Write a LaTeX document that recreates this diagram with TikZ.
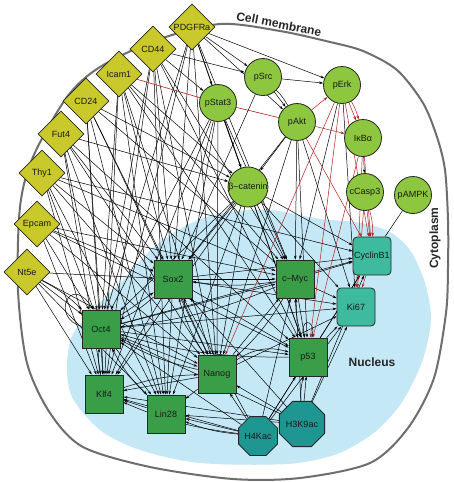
\documentclass[tikz,border=0pt]{standalone}
\usepackage{fontspec}
\setmainfont{Liberation Sans}
\usetikzlibrary{shapes.geometric,arrows.meta}
\definecolor{dia}{RGB}{201,201,44}
\definecolor{cgreen}{RGB}{141,198,63}
\definecolor{sgreen}{RGB}{58,158,72}
\definecolor{tealA}{RGB}{62,186,158}
\definecolor{tealB}{RGB}{30,150,146}
\definecolor{nucl}{RGB}{197,232,246}
\definecolor{memb}{RGB}{110,110,110}
\definecolor{edgered}{RGB}{178,34,34}
\pgfdeclarelayer{bg}
\pgfdeclarelayer{edges}
\pgfsetlayers{bg,edges,main}
\begin{document}
\begin{tikzpicture}[x=1pt,y=-1pt,font=\fontsize{9}{10}\selectfont,
  nbase/.style={draw=black!85,line width=0.8pt,text=black!90},
  dnode/.style={nbase,diamond,aspect=1,fill=dia,minimum size=46pt,inner sep=0.5pt},
  cnode/.style={nbase,circle,fill=cgreen,minimum size=37pt,inner sep=0pt},
  snode/.style={nbase,rectangle,fill=sgreen,minimum size=38pt,inner sep=0.5pt},
  tnode/.style={nbase,rectangle,rounded corners=4pt,fill=tealA,minimum size=38pt,inner sep=0.2pt},
  onode/.style={nbase,regular polygon,regular polygon sides=8,fill=tealB,minimum size=42pt,inner sep=0pt},
  e/.style={-{Stealth[length=4pt,width=2.6pt]},line width=0.5pt,draw=black},
  er/.style={e,draw=edgered},
  ln/.style={line width=0.5pt,draw=black},
  lnr/.style={line width=0.6pt,draw=edgered},
  lab/.style={font=\bfseries\fontsize{12}{12}\selectfont,text=black!85}]
\useasboundingbox (0,0) rectangle (453,482);
\begin{pgfonlayer}{bg}
\fill[white] (0,0) rectangle (453,482);
\fill[nucl] plot[smooth cycle] coordinates {(67,363) (74,332) (100,303) (123,280) (153,248) (187,225) (222,213) (270,210) (320,219) (355,222) (388,231) (410,250) (425,283) (431,320) (422,362) (402,402) (375,432) (337,454) (287,464) (200,463) (140,450) (100,430) (72,397)};
\draw[memb,line width=2pt] plot[smooth cycle] coordinates {(220,24) (280,31) (330,42) (363,51) (397,70) (423,103) (437,137) (445,170) (448,220) (448,268) (446,313) (434,378) (408,428) (370,463) (300,478) (233,479) (150,467) (83,447) (50,413) (27,363) (18,290) (20,207) (33,157) (67,97) (100,67) (157,40)};
\end{pgfonlayer}
% labels
\node[lab,rotate=-11] (cmlab) at (279,24) {Cell membrane};
\node[lab,rotate=90] (cytlab) at (435,238) {Cytoplasm};
\node[lab] (nuclab) at (372,362) {Nucleus};
% diamonds
\node[dnode] (pdgfra) at (192,27) {PDGFRa};
\node[dnode] (cd44) at (153,49) {CD44};
\node[dnode] (icam1) at (119,74) {Icam1};
\node[dnode] (cd24) at (86,101) {CD24};
\node[dnode] (fut4) at (61,134) {Fut4};
\node[dnode] (thy1) at (42,173) {Thy1};
\node[dnode] (epcam) at (37,224) {Epcam};
\node[dnode] (ntfe) at (27,272) {Nt5e};
% circles
\node[cnode] (pstat3) at (218,103) {pStat3};
\node[cnode] (psrc) at (263,77) {pSrc};
\node[cnode] (pakt) at (297,122) {pAkt};
\node[cnode] (bcat) at (248,187) {β–catenin};
\node[cnode] (perk) at (342,85) {pErk};
\node[cnode] (ikba) at (363,138) {IκBα};
\node[cnode] (ccasp3) at (365,192) {cCasp3};
\node[cnode] (pampk) at (413,195) {pAMPK};
% squares
\node[snode] (sox2) at (173,279) {Sox2};
\node[snode] (cmyc) at (295,279) {c–Myc};
\node[snode] (oct4) at (101,329) {Oct4};
\node[snode] (klf4) at (104,394) {Klf4};
\node[snode] (lin28) at (166,414) {Lin28};
\node[snode] (nanog) at (217,374) {Nanog};
\node[snode] (p53) at (308,357) {p53};
\node[tnode] (cyc) at (372,256) {CyclinB1};
\node[tnode] (ki67) at (356,307) {Ki67};
\node[onode] (h4) at (258,436) {H4Kac};
\node[onode] (h3) at (302,424) {H3K9ac};
\begin{pgfonlayer}{edges}
\foreach \a/\b in {pdgfra/psrc, pdgfra/perk, pdgfra/pstat3, pdgfra/pakt, pdgfra/oct4, pdgfra/sox2, pdgfra/nanog, pdgfra/cmyc, pdgfra/klf4, pdgfra/bcat,
 cd44/psrc, cd44/pstat3, cd44/oct4, cd44/sox2, cd44/nanog, cd44/klf4, cd44/lin28, cd44/cmyc, cd44/p53,
 icam1/oct4, icam1/sox2, icam1/nanog, icam1/klf4, icam1/lin28, icam1/p53, icam1/cmyc, icam1/bcat,
 cd24/bcat, cd24/oct4, cd24/sox2, cd24/nanog, cd24/klf4, cd24/lin28, cd24/cmyc,
 fut4/bcat, fut4/oct4, fut4/sox2, fut4/nanog, fut4/klf4, fut4/p53, fut4/lin28,
 thy1/cmyc, thy1/oct4, thy1/sox2, thy1/nanog, thy1/lin28, thy1/klf4, thy1/cyc,
 epcam/oct4, epcam/sox2, epcam/nanog, epcam/cmyc, epcam/klf4, epcam/p53,
 ntfe/oct4, ntfe/sox2, ntfe/nanog, ntfe/lin28, ntfe/klf4,
 pstat3/oct4, pstat3/sox2, pstat3/nanog, pstat3/klf4, pstat3/lin28, pstat3/cmyc, pstat3/p53, pstat3/bcat,
 psrc/perk, psrc/pakt, psrc/sox2,
 pakt/bcat, pakt/cmyc, pakt/p53, pakt/nanog, pakt/sox2, pakt/ki67,
 perk/cmyc, perk/ki67, ikba/ccasp3,
 bcat/oct4, bcat/sox2, bcat/nanog, bcat/cmyc, bcat/klf4, bcat/lin28, bcat/p53, bcat/cyc, bcat/ki67,
 oct4/sox2, oct4/klf4, oct4/nanog, oct4/lin28, oct4/cmyc, oct4/p53, oct4/ki67, oct4/cyc,
 sox2/cmyc, sox2/nanog, sox2/klf4, sox2/lin28, sox2/p53, sox2/ki67, sox2/cyc,
 nanog/cmyc, nanog/klf4, nanog/lin28, nanog/ki67,
 cmyc/p53, cmyc/cyc, cmyc/ki67, p53/ki67, p53/cyc, lin28/klf4,
 h4/oct4, h4/sox2, h4/nanog, h4/klf4, h4/lin28, h4/cmyc, h4/p53, h4/ki67, h4/cyc,
 h3/oct4, h3/sox2, h3/nanog, h3/klf4, h3/lin28, h3/cmyc, h3/p53, h3/ki67, h3/cyc}
 \draw[e] (\a) -- (\b);
\foreach \a/\b in {sox2/oct4, klf4/oct4, nanog/oct4, nanog/sox2, cmyc/sox2, cmyc/nanog, p53/cmyc, cmyc/oct4, lin28/oct4, klf4/nanog, ntfe/oct4, h4/lin28, h4/klf4, h3/p53, p53/oct4}
 \draw[e] (\a) to[bend left=8] (\b);
\draw[e] (nanog) to[bend left=25] (p53);
\draw[e] (oct4.172) .. controls (50,318) and (70,272) .. (oct4.112);
\draw[e] (p53.101) .. controls (298,318) and (316,318) .. (p53.79);
\foreach \a/\b in {pakt/perk, pakt/ikba, pakt/cyc, perk/ikba, perk/nanog, perk/p53, perk/cyc, ikba/cyc, ikba/ki67, ikba/p53, ccasp3/cyc, ccasp3/ki67, cyc/ki67}
 \draw[er] (\a) -- (\b);
\draw[er] (perk) to[bend left=8] (ikba);
\draw[er] (ccasp3) to[bend left=8] (cyc);
\draw[lnr] (icam1) -- (pstat3);
\draw[lnr] (pstat3) -- (pakt);
\draw[ln] (pampk) -- (cyc);
\draw[ln] (psrc) to[bend left=8] (pakt);
\end{pgfonlayer}
\end{tikzpicture}
\end{document}
